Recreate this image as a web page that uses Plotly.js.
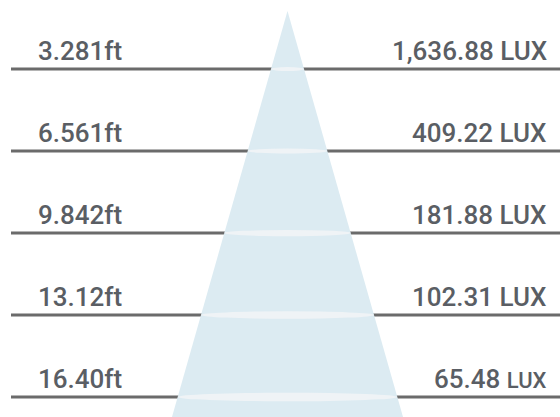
<!DOCTYPE html>
<html>
<head>
<meta charset="utf-8">
<script src="https://cdn.plot.ly/plotly-3.0.1.min.js"></script>
<style>html,body{margin:0;padding:0;background:#fff;}#chart{width:560px;height:417px;}</style>
</head>
<body>
<div id="chart"></div>
<script>
// Data: distances (feet) and illuminance at each distance
const distanceFt = [3.281, 6.561, 9.842, 13.12, 16.40];
const distanceLabels = ['3.281ft', '6.561ft', '9.842ft', '13.12ft', '16.40ft'];
const luxValues = [1636.88, 409.22, 181.88, 102.31, 65.48];
const luxLabels = ['1,636.88 LUX', '409.22 LUX', '181.88 LUX', '102.31 LUX', '65.48 <span style="font-size:22px">LUX</span>'];

// Layout / geometry constants
const W = 560, H = 417;
const yTop = 0.52, yBottom = 17.2;           // feet visible at top / bottom of plot
const pxPerFt = H / (yBottom - yTop);
const apexFt = 0.96;                          // where the light cone starts
const coneCenterX = 287.5;
const halfSlopePx = 0.2845;                   // cone half-width per vertical pixel
const lineStartX = 11;
const lineColor = '#6b6b6b';
const coneColor = '#dcebf2';
const ringColor = '#eff3f6';
const textColor = '#5a5e64';
const fontSize = 26;

function halfWidth(ft) { return (ft - apexFt) * pxPerFt * halfSlopePx; }

const shapes = [];
// horizontal distance lines
distanceFt.forEach(ft => {
  shapes.push({type:'line', xref:'x', yref:'y', x0:lineStartX, x1:W, y0:ft, y1:ft,
    line:{color:lineColor, width:3}});
});
// light cone
const hb = halfWidth(yBottom);
shapes.push({type:'path', xref:'x', yref:'y',
  path:`M ${coneCenterX},${apexFt} L ${coneCenterX + hb},${yBottom} L ${coneCenterX - hb},${yBottom} Z`,
  fillcolor:coneColor, line:{width:0}});
// rings at each distance
distanceFt.forEach(ft => {
  const hw = halfWidth(ft);
  const hPx = 3 + 0.025 * 2 * hw;
  const hFt = hPx / pxPerFt / 2;
  shapes.push({type:'circle', xref:'x', yref:'y',
    x0:coneCenterX - hw, x1:coneCenterX + hw, y0:ft - hFt, y1:ft + hFt,
    fillcolor:ringColor, line:{width:0}});
});

const annotations = [];
distanceFt.forEach((ft, i) => {
  annotations.push({xref:'x', yref:'y', x:36, y:ft, xanchor:'left', yanchor:'bottom',
    text:distanceLabels[i], showarrow:false, yshift:1,
    font:{family:'Roboto', size:fontSize, weight:500, color:textColor}});
  annotations.push({xref:'x', yref:'y', x:549, y:ft, xanchor:'right', yanchor:'bottom',
    text:luxLabels[i], showarrow:false, yshift:1,
    font:{family:'Roboto', size:fontSize, weight:500, color:textColor}});
});

const layout = {
  width:W, height:H,
  margin:{l:0, r:0, t:0, b:0},
  paper_bgcolor:'#ffffff', plot_bgcolor:'#ffffff',
  showlegend:false,
  xaxis:{range:[0, W], visible:false, fixedrange:true},
  yaxis:{range:[yBottom, yTop], visible:false, fixedrange:true},
  shapes:shapes,
  annotations:annotations
};

const trace = {type:'scatter', x:distanceFt.map(()=>lineStartX), y:distanceFt, mode:'none',
  hoverinfo:'skip', customdata:luxValues};

Plotly.newPlot('chart', [trace], layout, {staticPlot:true, displayModeBar:false});
</script>
</body>
</html>
